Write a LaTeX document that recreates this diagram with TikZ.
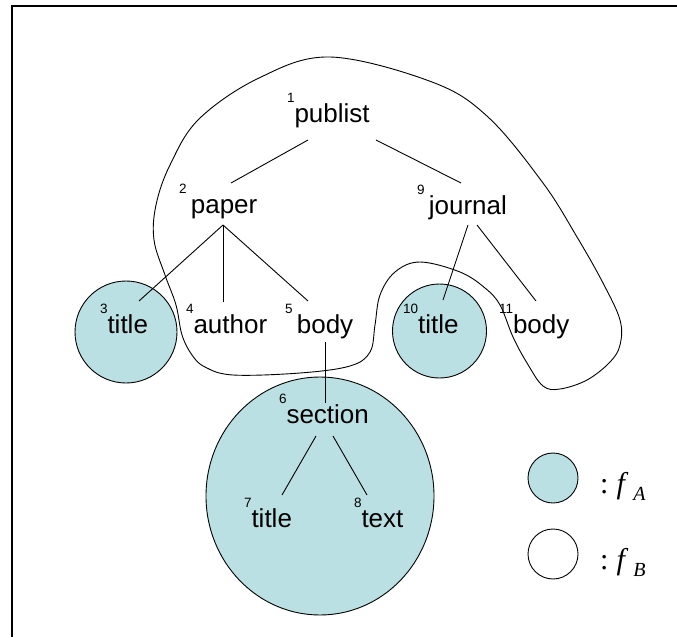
\documentclass[tikz,border=0pt]{standalone}
\usepackage{fontspec}
\setmainfont{Liberation Sans}
\newfontfamily\legfont{Liberation Serif}
\usetikzlibrary{calc}
\definecolor{regA}{RGB}{187,224,227}
% small raised node number in front of a tag
\newcommand{\nsup}[1]{\raisebox{20pt}{\fontsize{13.5}{14}\selectfont #1}}
\newcommand{\elem}[5]{
  \node[lab] (#1) at (#2,#3) {\nsup{#4}#5};
}

\begin{document}
\begin{tikzpicture}[x=1pt,y=-1pt,
    lab/.style={anchor=base west, inner sep=0pt, outer sep=0pt,
      font=\fontsize{26}{30}\selectfont},
    branch/.style={line width=0.9pt},
    fa/.style={draw, fill=regA, line width=0.9pt},
    leg/.style={anchor=base west, inner sep=0pt,
      font=\legfont\fontsize{30}{34}\selectfont}]
  \useasboundingbox (0,0) rectangle (677,637);
  \draw[line width=1.4pt] (12,637) -- (12,6) -- (677,6);

  % f_A regions
  \draw[fa] (126,332) circle (51pt);
  \draw[fa] (439.5,331) circle (47pt);
  \draw[fa] (320,496) ellipse (114pt and 119pt);

  % f_B region
  \draw[branch] plot[smooth cycle, tension=0.6] coordinates {
    (330,57) (432,82) (488,117) (543,183) (577,237) (603,283) (620,320)
    (620,345) (610,362) (587,380) (560,389) (543,386) (527,363) (513,337)
    (500,305) (485,288) (460,272) (420,262) (395,272) (380,295) (375,325)
    (370,352) (350,366) (300,373) (233,375) (205,367) (192,355) (182,335)
    (176,305) (165,275) (154,240) (156,205) (170,165) (199,119) (259,78)};

  % tree
  \elem{pub}{287}{122}{1}{publist}
  \elem{paper}{179}{213}{2}{\,paper}
  \elem{jour}{417}{214}{9}{\,journal}
  \elem{ttlA}{100}{333}{3}{title}
  \elem{auth}{186}{333}{4}{author}
  \elem{bodyA}{285}{333}{5}{\,body}
  \elem{ttlB}{403}{333}{10}{title}
  \elem{bodyB}{499}{333}{11}{body}
  \elem{sect}{279}{423}{6}{section}
  \elem{ttlC}{244}{527}{7}{title}
  \elem{txt}{354}{527}{8}{text}

  \draw[branch] ($(pub.base west)+(21,18)$) -- ($(paper.base west)+(52,-30)$);
  \draw[branch] ($(pub.base west)+(89,18)$) -- ($(jour.base west)+(44,-31)$);
  \draw[branch] ($(paper.base west)+(44,12)$) -- ($(ttlA.base west)+(39,-32)$);
  \draw[branch] ($(paper.base west)+(44,12)$) -- ($(auth.base west)+(37,-31)$);
  \draw[branch] ($(paper.base west)+(44,12)$) -- ($(bodyA.base west)+(23,-32)$);
  \draw[branch] ($(jour.base west)+(51,11)$) -- ($(ttlB.base west)+(40,-33)$);
  \draw[branch] ($(jour.base west)+(60,11)$) -- ($(bodyB.base west)+(37,-32)$);
  \draw[branch] ($(bodyA.base west)+(40,9)$) -- ($(sect.base west)+(46,-20)$);
  \draw[branch] ($(sect.base west)+(37,13)$) -- ($(ttlC.base west)+(38,-32)$);
  \draw[branch] ($(sect.base west)+(54,13)$) -- ($(txt.base west)+(13,-32)$);

  % legend
  \node[fa, circle, minimum size=50pt, inner sep=0pt] (keyA) at (553,478) {};
  \node[draw, line width=0.9pt, circle, minimum size=50pt, inner sep=0pt] (keyB) at (553,554) {};
  \node[leg] (legA) at (600,493)
    {:\hspace{8pt}\textit{f}\hspace{5pt}\raisebox{-7pt}{\fontsize{20}{20}\selectfont\textit{A}}};
  \node[leg] (legB) at (600,569)
    {:\hspace{8pt}\textit{f}\hspace{5pt}\raisebox{-7pt}{\fontsize{20}{20}\selectfont\textit{B}}};
\end{tikzpicture}
\end{document}
